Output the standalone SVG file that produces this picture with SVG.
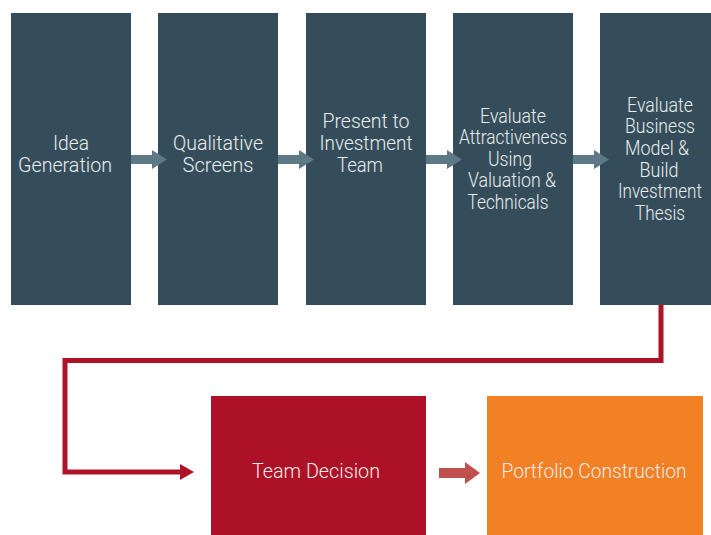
<svg xmlns="http://www.w3.org/2000/svg" width="711" height="535" viewBox="0 0 711 535">
<defs>
<style>
.box{fill:#354d5a}
.t{font-family:Roboto,"Liberation Sans",sans-serif;font-weight:300;font-size:20px;fill:#e9edef;text-anchor:middle}
.t2{font-family:Roboto,"Liberation Sans",sans-serif;font-weight:300;font-size:20px;fill:#f6ece8;text-anchor:middle}
.ga{fill:#5d7985}
</style>
</defs>
<rect width="711" height="535" fill="#fff"/>
<g id="n1"><rect class="box" x="11" y="13" width="120" height="292"/>
<text class="t" x="71" y="150" textLength="36" lengthAdjust="spacingAndGlyphs">Idea</text>
<text class="t" x="65" y="172" textLength="94" lengthAdjust="spacingAndGlyphs">Generation</text></g>
<g id="n2"><rect class="box" x="158" y="13" width="120" height="292"/>
<text class="t" x="218" y="150" textLength="90" lengthAdjust="spacingAndGlyphs">Qualitative</text>
<text class="t" x="218" y="172" textLength="71" lengthAdjust="spacingAndGlyphs">Screens</text></g>
<g id="n3"><rect class="box" x="306" y="13" width="120" height="292"/>
<text class="t" x="366" y="128" textLength="87" lengthAdjust="spacingAndGlyphs">Present to</text>
<text class="t" x="366" y="150" textLength="93" lengthAdjust="spacingAndGlyphs">Investment</text>
<text class="t" x="360" y="172" textLength="46" lengthAdjust="spacingAndGlyphs">Team</text></g>
<g id="n4"><rect class="box" x="453" y="13" width="120" height="292"/>
<text class="t" x="513" y="123" textLength="66" lengthAdjust="spacingAndGlyphs">Evaluate</text>
<text class="t" x="513" y="144" textLength="108" lengthAdjust="spacingAndGlyphs">Attractiveness</text>
<text class="t" x="510" y="166" textLength="44" lengthAdjust="spacingAndGlyphs">Using</text>
<text class="t" x="512" y="187" textLength="88" lengthAdjust="spacingAndGlyphs">Valuation &amp;</text>
<text class="t" x="508" y="209" textLength="81" lengthAdjust="spacingAndGlyphs">Technicals</text></g>
<g id="n5"><rect class="box" x="600" y="13" width="120" height="292"/>
<text class="t" x="660" y="112" textLength="66" lengthAdjust="spacingAndGlyphs">Evaluate</text>
<text class="t" x="660" y="133" textLength="70" lengthAdjust="spacingAndGlyphs">Business</text>
<text class="t" x="657" y="155" textLength="64" lengthAdjust="spacingAndGlyphs">Model &amp;</text>
<text class="t" x="659" y="177" textLength="39" lengthAdjust="spacingAndGlyphs">Build</text>
<text class="t" x="660" y="198" textLength="84" lengthAdjust="spacingAndGlyphs">Investment</text>
<text class="t" x="660" y="220" textLength="50" lengthAdjust="spacingAndGlyphs">Thesis</text></g>
<g id="n6"><rect x="211" y="396" width="215" height="139" fill="#ad1128"/>
<text class="t2" x="316" y="478" textLength="128" lengthAdjust="spacingAndGlyphs">Team Decision</text></g>
<g id="n7"><rect x="487" y="396" width="216" height="139" fill="#f28024"/>
<text class="t2" x="594" y="478" textLength="185" lengthAdjust="spacingAndGlyphs">Portfolio Construction</text></g>
<g id="connectors">
<path class="ga" d="M131 155H152V150L167 159.5L152 169V164H131Z"/>
<path class="ga" d="M278 155H299V150L314 159.5L299 169V164H278Z"/>
<path class="ga" d="M426 155H447V150L462 159.5L447 169V164H426Z"/>
<path class="ga" d="M573 155H594V150L609 159.5L594 169V164H573Z"/>
<path d="M661 305V360.5H65V472H182" fill="none" stroke="#ae1228" stroke-width="5"/>
<path d="M180 464L194 472L180 480Z" fill="#ae1228"/>
<path d="M439 468H465V462L480 473L465 484V478H439Z" fill="#c0504d"/>
</g>
</svg>
